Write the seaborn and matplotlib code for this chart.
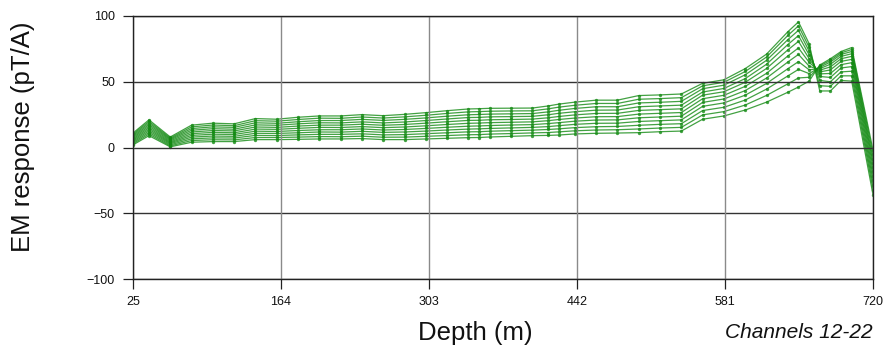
import matplotlib
matplotlib.use("Agg")
import matplotlib.pyplot as plt
import seaborn as sns
import pandas as pd

# Station depths (m) along the profile
depth = [25, 40, 60, 80, 100, 120, 140, 160, 180, 200, 220, 240, 260, 280, 300,
         320, 340, 350, 360, 380, 400, 415, 425, 440, 460, 480, 500, 520, 540,
         560, 580, 600, 620, 640, 650, 660, 670, 680, 690, 700, 720]

# EM response (pT/A) for each time channel
ch12 = [11, 21, 8, 17, 18.5, 18, 22, 21.5, 23, 24, 24, 25, 24.2, 25.2, 26.5, 28, 29.3, 29.5, 29.8, 29.9,
        30, 31.6, 33, 34.5, 36, 36, 39.5, 40, 40.7, 48.8, 51.5, 60, 71, 88, 95.5, 79, 43, 43, 51, 50.5, -36]
ch13 = [10.1, 19.8, 7.2, 15.7, 17.1, 16.6, 20.4, 20, 21.3, 22.3, 22.2, 23.2, 22.4, 23.3, 24.5, 25.9, 27.1, 27.3, 27.6, 27.8,
        27.9, 29.4, 30.7, 32.1, 33.5, 33.5, 36.7, 37.2, 37.9, 46.9, 49.6, 57.8, 68.8, 85.2, 92.5, 76.2, 47, 46.5, 54.5, 54.5, -32]
ch14 = [9.2, 18.6, 6.5, 14.4, 15.7, 15.3, 18.8, 18.4, 19.6, 20.5, 20.5, 21.4, 20.6, 21.4, 22.5, 23.8, 24.9, 25.1, 25.4, 25.6,
        25.8, 27.1, 28.3, 29.7, 31, 31, 33.9, 34.4, 35.1, 44.7, 47.4, 55.3, 66.3, 82, 89.1, 73.3, 51, 50, 57.5, 58, -28.5]
ch15 = [8.3, 17.4, 5.8, 13.1, 14.3, 13.9, 17.2, 16.9, 18, 18.8, 18.7, 19.5, 18.7, 19.4, 20.5, 21.7, 22.8, 22.9, 23.3, 23.5,
        23.7, 24.9, 26, 27.2, 28.4, 28.5, 31, 31.6, 32.2, 42.2, 44.9, 52.4, 63.3, 78.3, 85.1, 70.5, 54, 53.3, 60.5, 61.5, -25]
ch16 = [7.4, 16.2, 5, 11.8, 12.9, 12.6, 15.6, 15.3, 16.3, 17, 17, 17.7, 16.9, 17.5, 18.5, 19.6, 20.6, 20.7, 21.1, 21.3,
        21.6, 22.6, 23.6, 24.8, 25.9, 26, 28.2, 28.8, 29.4, 39.8, 42.4, 49.6, 60.1, 74.2, 80.7, 67.6, 56, 56.3, 63, 64.5, -21.5]
ch17 = [6.5, 15, 4.2, 10.5, 11.5, 11.2, 14, 13.8, 14.6, 15.3, 15.2, 15.9, 15.1, 15.6, 16.5, 17.5, 18.4, 18.6, 18.9, 19.2,
        19.5, 20.4, 21.3, 22.4, 23.4, 23.5, 25.4, 26, 26.6, 37.1, 39.7, 46.5, 56.4, 69.6, 75.7, 64.8, 57.5, 59, 65.5, 67, -18]
ch18 = [5.6, 13.8, 3.5, 9.2, 10.1, 9.9, 12.4, 12.2, 12.9, 13.5, 13.5, 14.1, 13.3, 13.7, 14.5, 15.4, 16.2, 16.4, 16.7, 17.1,
        17.4, 18.2, 18.9, 20, 20.9, 21, 22.6, 23.2, 23.8, 34.3, 36.9, 43.3, 52.8, 65, 70.8, 61.9, 58.8, 61.3, 67.5, 69.3, -14.5]
ch19 = [4.7, 12.6, 2.8, 7.9, 8.7, 8.5, 10.8, 10.7, 11.2, 11.8, 11.7, 12.3, 11.5, 11.8, 12.5, 13.3, 14, 14.2, 14.5, 14.9,
        15.3, 15.9, 16.6, 17.6, 18.4, 18.5, 19.8, 20.4, 21, 31.3, 33.9, 39.8, 48.7, 59.9, 65.3, 59.1, 60, 63.3, 69.3, 71.3, -11.5]
ch20 = [3.8, 11.4, 2, 6.6, 7.3, 7.2, 9.2, 9.1, 9.6, 10, 10, 10.4, 9.6, 9.8, 10.5, 11.2, 11.9, 12, 12.4, 12.8,
        13.2, 13.7, 14.2, 15.1, 15.8, 16, 16.9, 17.6, 18.1, 28.1, 30.6, 36.1, 44.4, 54.4, 59.4, 56.2, 61, 65, 70.8, 73, -8.5]
ch21 = [2.9, 10.2, 1.2, 5.3, 5.9, 5.8, 7.6, 7.6, 7.9, 8.3, 8.2, 8.6, 7.8, 7.9, 8.5, 9.1, 9.7, 9.8, 10.2, 10.6,
        11.1, 11.4, 11.9, 12.7, 13.3, 13.5, 14.1, 14.8, 15.3, 24.8, 27.3, 32.3, 39.6, 48.4, 52.9, 53.4, 62, 66.3, 72, 74.5, -5]
ch22 = [2, 9, 0.5, 4, 4.5, 4.5, 6, 6, 6.2, 6.5, 6.5, 6.8, 6, 6, 6.5, 7, 7.5, 7.6, 8, 8.5,
        9, 9.2, 9.5, 10.3, 10.8, 11, 11.3, 12, 12.5, 21.5, 24, 28.5, 34.5, 42, 46, 50.5, 62.7, 67.5, 73, 76, -2]

channel_names = ["12", "13", "14", "15", "16", "17", "18", "19", "20", "21", "22"]
channel_values = [ch12, ch13, ch14, ch15, ch16, ch17, ch18, ch19, ch20, ch21, ch22]

x_ticks = [25, 164, 303, 442, 581, 720]
y_ticks = [-100, -50, 0, 50, 100]

frames = []
for name, vals in zip(channel_names, channel_values):
    frames.append(pd.DataFrame({"depth": depth, "response": vals, "channel": name}))
df = pd.concat(frames, ignore_index=True)

sns.set_theme(style="white")
plt.rcParams["font.family"] = ["Liberation Sans", "DejaVu Sans"]
plt.rcParams["axes.unicode_minus"] = True

fig = plt.figure(figsize=(8.83, 3.52), dpi=100)
ax = fig.add_axes([133 / 883, 1 - 279 / 352, 740 / 883, 263 / 352])

green = "#138a13"
sns.lineplot(data=df, x="depth", y="response", hue="channel",
             palette={n: green for n in channel_names}, estimator=None, sort=False,
             marker="o", markersize=2.4, markeredgewidth=0, linewidth=0.9,
             alpha=0.8, legend=False, ax=ax)

ax.set_xlim(25, 720)
ax.set_ylim(-100, 100)
ax.set_xticks(x_ticks)
ax.set_yticks(y_ticks)

# grid: dark horizontal rules, lighter vertical rules
ax.set_axisbelow(False)
ax.grid(False)
for yv in y_ticks:
    ax.axhline(yv, color="#333333", lw=1.0, zorder=2.5)
for xv in x_ticks:
    ax.axvline(xv, color="#8a8a8a", lw=1.0, zorder=2.5)

for side in ["left", "bottom", "top", "right"]:
    ax.spines[side].set_visible(True)
    ax.spines[side].set_color("#222222")
    ax.spines[side].set_linewidth(1.0)

ax.tick_params(axis="both", which="major", direction="out", length=7, width=0.9,
               color="#222222", labelsize=9, labelcolor="#111111", left=True, bottom=True)
ax.tick_params(axis="y", pad=6)
ax.tick_params(axis="x", pad=5)

ax.set_xlabel("")
ax.set_ylabel("EM response (pT/A)", fontsize=18.5, color="#111111")
ax.yaxis.set_label_coords((35 - 133) / 740, (279 - 136.5) / 263)

fig.text(475 / 883, 1 - 333 / 352, "Depth (m)", fontsize=18.5, color="#111111",
         ha="center", va="center")
fig.text(873 / 883, 1 - 333 / 352, "Channels 12-22", fontsize=15, style="italic",
         color="#111111", ha="right", va="center")

fig.savefig("out.png", dpi=100)
